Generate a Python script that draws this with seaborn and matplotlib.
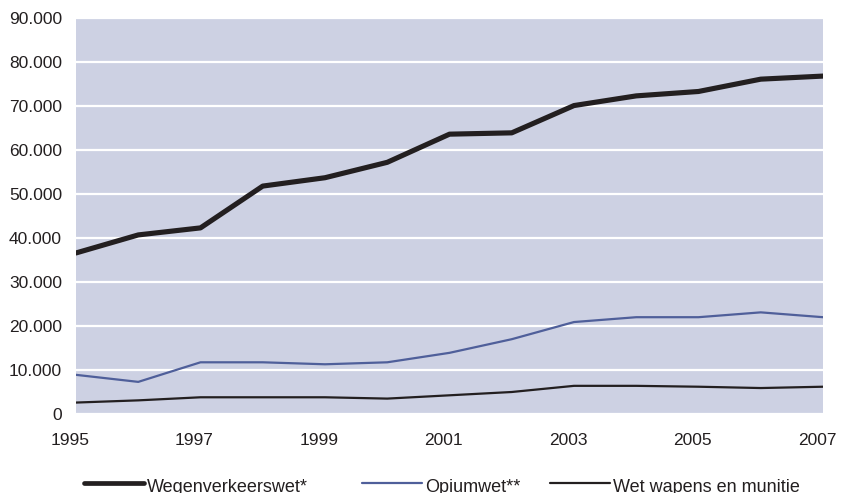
import matplotlib
matplotlib.use("Agg")
import matplotlib.pyplot as plt
from matplotlib.ticker import FuncFormatter, MultipleLocator
from matplotlib.lines import Line2D
from matplotlib.legend_handler import HandlerLine2D
import matplotlib.transforms as mtransforms
import seaborn as sns
import pandas as pd

years = list(range(1995, 2008))
wegenverkeerswet = [36600, 40700, 42300, 51800, 53700, 57200, 63600, 63900, 70100, 72300, 73300, 76100, 76800]
opiumwet = [8900, 7300, 11750, 11750, 11300, 11750, 13900, 17000, 20900, 22000, 22000, 23100, 22000]
wapens = [2600, 3100, 3800, 3800, 3800, 3500, 4250, 5000, 6400, 6400, 6200, 5900, 6200]
series_names = ["Wegenverkeerswet*", "Opiumwet**", "Wet wapens en munitie"]
x_ticks = [1995, 1997, 1999, 2001, 2003, 2005, 2007]

rows = []
for name, vals in zip(series_names, [wegenverkeerswet, opiumwet, wapens]):
    for y, v in zip(years, vals):
        rows.append({"jaar": y, "aantal": v, "reeks": name})
df = pd.DataFrame(rows)

sns.set_theme(style="white")
plt.rcParams["font.family"] = ["Liberation Sans", "DejaVu Sans"]
text_color = "#231f20"

W, H = 847, 493
fig = plt.figure(figsize=(W / 100, H / 100), dpi=100)
ax = fig.add_axes([76 / W, 1 - 414 / H, (823 - 76) / W, (414 - 18) / H])
ax.set_facecolor("#cdd1e3")

palette = {"Wegenverkeerswet*": "#231f20", "Opiumwet**": "#4f5f9a", "Wet wapens en munitie": "#231f20"}
sizes = {"Wegenverkeerswet*": 3.7, "Opiumwet**": 1.6, "Wet wapens en munitie": 1.6}
sns.lineplot(data=df, x="jaar", y="aantal", hue="reeks", size="reeks", sizes=sizes,
             palette=palette, hue_order=series_names, size_order=series_names,
             ax=ax, legend=False, zorder=3)

ax.set_xlim(1995, 2007)
ax.set_ylim(0, 90000)
ax.yaxis.set_major_locator(MultipleLocator(10000))
ax.set_xticks(x_ticks)
ax.yaxis.set_major_formatter(FuncFormatter(lambda v, p: f"{int(v):,}".replace(",", ".")))
ax.grid(axis="y", color="white", linewidth=1.6, zorder=1)
ax.set_axisbelow(True)
for s in ax.spines.values():
    s.set_visible(False)
ax.tick_params(axis="both", length=0, labelsize=12.5, colors=text_color)
ax.tick_params(axis="y", pad=10)
ax.tick_params(axis="x", pad=14)
ax.set_xlabel("")
ax.set_ylabel("")

shift = mtransforms.ScaledTranslation(-6 / 100, 0, fig.dpi_scale_trans)
for lbl in ax.get_xticklabels():
    lbl.set_transform(lbl.get_transform() + shift)


class RaisedLine(HandlerLine2D):
    def create_artists(self, legend, orig_handle, xdescent, ydescent, width, height,
                       fontsize, trans):
        arts = super().create_artists(legend, orig_handle, xdescent, ydescent, width,
                                      height, fontsize, trans)
        for a in arts:
            a.set_ydata([y + 2.2 for y in a.get_ydata()])
        return arts


legend_x = [84, 362, 550]
legend_w = [3.4, 1.6, 1.6]
for name, xp, lw in zip(series_names, legend_x, legend_w):
    h = Line2D([0], [0], color=palette[name], linewidth=lw)
    fig.legend([h], [name], loc="center left", bbox_to_anchor=(xp / W, 1 - 488 / H),
               frameon=False, fontsize=13, handlelength=3.3, handletextpad=0.2,
               borderpad=0, borderaxespad=0, labelcolor=text_color,
               handler_map={Line2D: RaisedLine()})

fig.savefig("out.png", dpi=100)
